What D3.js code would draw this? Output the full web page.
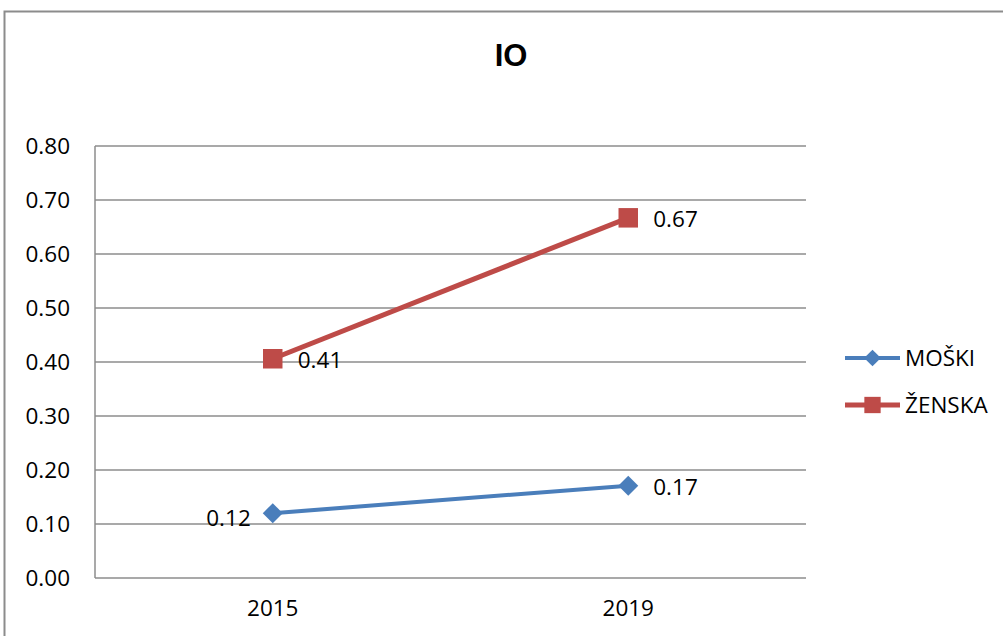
<!DOCTYPE html>
<html>
<head>
<meta charset="utf-8">
<script src="https://cdn.jsdelivr.net/npm/d3@7"></script>
<style>
  html, body { margin: 0; padding: 0; background: #fff; }
  svg text { font-family: "Open Sans", "Liberation Sans", sans-serif; fill: #000; }
</style>
</head>
<body>
<svg id="chart"></svg>
<script>
const title = "IO";
const categories = ["2015", "2019"];
const seriesNames = ["MOŠKI", "ŽENSKA"];
const moskiValues = [0.12, 0.171];
const zenskaValues = [0.406, 0.667];
const yTicks = [0, 0.1, 0.2, 0.3, 0.4, 0.5, 0.6, 0.7, 0.8];

function drawChart() {
    const width = 1003, height = 636;
    const plot = { left: 95, right: 806, top: 146, bottom: 578 };
    const fontSize = "22.5px";

    const svg = d3.select("#chart")
        .attr("width", width)
        .attr("height", height);

    // chart frame (runs off the right/bottom edge)
    svg.append("rect")
        .attr("x", 4.5).attr("y", 11.5)
        .attr("width", 1100).attr("height", 700)
        .attr("fill", "#fff")
        .attr("stroke", "#8c8c8c")
        .attr("stroke-width", 2);

    svg.append("text")
        .attr("x", 511).attr("y", 66)
        .attr("text-anchor", "middle")
        .style("font-family", "'Liberation Sans', sans-serif")
        .attr("font-size", "31px")
        .attr("font-weight", "bold")
        .text(title);

    const x = d3.scaleBand()
        .domain(categories)
        .range([plot.left, plot.right]);

    const y = d3.scaleLinear()
        .domain([0, 0.8])
        .range([plot.bottom, plot.top]);

    /* ---------------------------
       Grid + axes
    --------------------------- */
    svg.append("g")
        .selectAll("line")
        .data(yTicks)
        .enter()
        .append("line")
        .attr("x1", plot.left).attr("x2", plot.right)
        .attr("y1", d => y(d)).attr("y2", d => y(d))
        .attr("stroke", "#8c8c8c")
        .attr("stroke-width", 1.5);

    svg.append("line")
        .attr("x1", plot.left).attr("x2", plot.left)
        .attr("y1", plot.top).attr("y2", plot.bottom)
        .attr("stroke", "#8c8c8c")
        .attr("stroke-width", 1.5);

    const yAxis = svg.append("g")
        .attr("transform", `translate(${plot.left},0)`)
        .call(d3.axisLeft(y).tickValues(yTicks).tickFormat(d3.format(".2f")).tickSize(0).tickPadding(25));
    yAxis.select(".domain").remove();
    yAxis.selectAll("text")
        .attr("font-size", fontSize)
        .style("font-family", "'Open Sans', sans-serif");

    const xAxis = svg.append("g")
        .attr("transform", `translate(0,${plot.bottom})`)
        .call(d3.axisBottom(x).tickSize(0).tickPadding(22));
    xAxis.select(".domain").remove();
    xAxis.selectAll("text")
        .attr("font-size", fontSize)
        .style("font-family", "'Open Sans', sans-serif");

    /* ---------------------------
       Series
    --------------------------- */
    const cx = c => x(c) + x.bandwidth() / 2;
    // diamonds = squares turned 45deg
    const series = [
        { name: seriesNames[0], values: moskiValues, color: "#4a7ebb", width: 4, size: 200, rot: 45, labelSide: [-1, 1] },
        { name: seriesNames[1], values: zenskaValues, color: "#be4b48", width: 5, size: 380, rot: 0, labelSide: [1, 1] }
    ];

    const line = d3.line()
        .x((d, i) => cx(categories[i]))
        .y(d => y(d));

    series.forEach(s => {
        svg.append("path")
            .datum(s.values)
            .attr("d", line)
            .attr("fill", "none")
            .attr("stroke", s.color)
            .attr("stroke-width", s.width);

        const marker = d3.symbol().type(d3.symbolSquare).size(s.size);
        svg.append("g")
            .selectAll("path")
            .data(s.values)
            .enter()
            .append("path")
            .attr("d", marker)
            .attr("transform", (d, i) => `translate(${cx(categories[i])},${y(d)}) rotate(${s.rot})`)
            .attr("fill", s.color);

        svg.append("g")
            .selectAll("text")
            .data(s.values)
            .enter()
            .append("text")
            .attr("x", (d, i) => cx(categories[i]) + (s.labelSide[i] < 0 ? -22 : 25))
            .attr("y", (d, i) => y(d) + (s.labelSide[i] < 0 ? 5 : 1))
            .attr("dy", "0.35em")
            .attr("text-anchor", (d, i) => s.labelSide[i] < 0 ? "end" : "start")
            .attr("font-size", fontSize)
            .text(d => d.toFixed(2));
    });

    /* ---------------------------
       Legend
    --------------------------- */
    const legend = svg.append("g");
    series.forEach((s, i) => {
        const ly = 358 + i * 47;
        legend.append("line")
            .attr("x1", 845).attr("x2", 900)
            .attr("y1", ly).attr("y2", ly)
            .attr("stroke", s.color)
            .attr("stroke-width", s.width);
        legend.append("path")
            .attr("d", d3.symbol().type(d3.symbolSquare).size(s.size * 0.7))
            .attr("transform", `translate(872.5,${ly}) rotate(${s.rot})`)
            .attr("fill", s.color);
        legend.append("text")
            .attr("x", 905).attr("y", ly)
            .attr("dy", "0.35em")
            .attr("font-size", fontSize)
            .text(s.name);
    });
}

drawChart();
</script>
</body>
</html>
